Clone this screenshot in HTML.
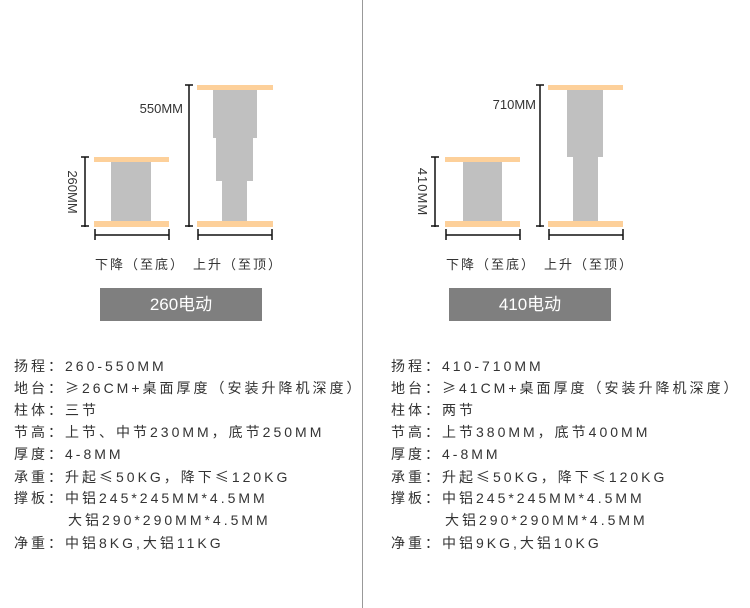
<!DOCTYPE html>
<html><head><meta charset="utf-8"><style>
body{margin:0;width:750px;height:608px;background:#fff;position:relative;overflow:hidden;font-family:"Liberation Sans","Noto Sans CJK SC",sans-serif;}
.t{position:absolute;font-size:14px;letter-spacing:3px;color:#333;white-space:nowrap;line-height:16px;}
.c{font-family:"Noto Sans CJK SC",sans-serif;}
.btn{position:absolute;background:#7f7f7f;color:#fff;font-size:17px;text-align:center;line-height:33px;height:33px;width:162px;top:288px;}
.lab{position:absolute;font-size:13px;color:#333;letter-spacing:2px;white-space:nowrap;}
</style></head><body>
<svg width="750" height="608" style="position:absolute;left:0;top:0">
<line x1="362.5" y1="0" x2="362.5" y2="608" stroke="#999" stroke-width="1"/>
<g stroke="#111" stroke-width="1.5" fill="none">
<line x1="85" y1="157" x2="85" y2="227"/><line x1="81" y1="157" x2="89" y2="157"/><line x1="81" y1="226" x2="89" y2="226"/>
<line x1="95" y1="235" x2="169" y2="235"/><line x1="95" y1="229" x2="95" y2="240"/><line x1="169" y1="229" x2="169" y2="240"/>
<line x1="189" y1="85" x2="189" y2="227"/><line x1="185" y1="85" x2="193" y2="85"/><line x1="185" y1="226" x2="193" y2="226"/>
<line x1="198" y1="235" x2="272" y2="235"/><line x1="198" y1="229" x2="198" y2="240"/><line x1="272" y1="229" x2="272" y2="240"/>
<line x1="435" y1="157" x2="435" y2="227"/><line x1="431" y1="157" x2="439" y2="157"/><line x1="431" y1="226" x2="439" y2="226"/>
<line x1="446" y1="235" x2="520" y2="235"/><line x1="446" y1="229" x2="446" y2="240"/><line x1="520" y1="229" x2="520" y2="240"/>
<line x1="540" y1="85" x2="540" y2="227"/><line x1="536" y1="85" x2="544" y2="85"/><line x1="536" y1="226" x2="544" y2="226"/>
<line x1="549" y1="235" x2="623" y2="235"/><line x1="549" y1="229" x2="549" y2="240"/><line x1="623" y1="229" x2="623" y2="240"/>
</g>
<g fill="#c0c0c0">
<rect x="111" y="162" width="40" height="60"/>
<rect x="213" y="90" width="44" height="48"/><rect x="216" y="138" width="37" height="43"/><rect x="222" y="181" width="25" height="41"/>
<rect x="463" y="162" width="39" height="60"/>
<rect x="567" y="90" width="36" height="67"/><rect x="573" y="157" width="25" height="65"/>
</g>
<g fill="#fdd09a">
<rect x="94" y="157" width="75" height="5"/><rect x="94" y="221" width="75" height="6"/>
<rect x="197" y="85" width="76" height="5"/><rect x="197" y="221" width="76" height="6"/>
<rect x="445" y="157" width="75" height="5"/><rect x="445" y="221" width="75" height="6"/>
<rect x="548" y="85" width="75" height="5"/><rect x="548" y="221" width="75" height="6"/>
</g>
<g font-family="Liberation Sans, sans-serif" font-size="13" fill="#333">
<text x="183" y="113" text-anchor="end">550MM</text>
<text x="536" y="109" text-anchor="end">710MM</text>
<text transform="translate(68,192) rotate(90)" text-anchor="middle">260MM</text>
<text transform="translate(418,192) rotate(90)" text-anchor="middle" letter-spacing="1">410MM</text>
</g>
</svg>
<div class="lab" style="left:95px;top:254px">下降（至底）</div>
<div class="lab" style="left:193px;top:254px">上升（至顶）</div>
<div class="lab" style="left:446px;top:254px">下降（至底）</div>
<div class="lab" style="left:544px;top:254px">上升（至顶）</div>
<div class="btn" style="left:100px">260电动</div>
<div class="btn" style="left:449px">410电动</div>

<div class="t" style="left:14px;top:358px">扬程：260-550MM</div>
<div class="t" style="left:14px;top:380px">地台：<span class="c">≥</span>26CM+桌面厚度（安装升降机深度）</div>
<div class="t" style="left:14px;top:402px">柱体：三节</div>
<div class="t" style="left:14px;top:424px">节高：上节、中节230MM，底节250MM</div>
<div class="t" style="left:14px;top:446px">厚度：4-8MM</div>
<div class="t" style="left:14px;top:469px">承重：升起<span class="c">≤</span>50KG，降下<span class="c">≤</span>120KG</div>
<div class="t" style="left:14px;top:490px">撑板：中铝245*245MM*4.5MM</div>
<div class="t" style="left:68px;top:512px">大铝290*290MM*4.5MM</div>
<div class="t" style="left:14px;top:535px">净重：中铝8KG,大铝11KG</div>

<div class="t" style="left:391px;top:358px">扬程：410-710MM</div>
<div class="t" style="left:391px;top:380px">地台：<span class="c">≥</span>41CM+桌面厚度（安装升降机深度）</div>
<div class="t" style="left:391px;top:402px">柱体：两节</div>
<div class="t" style="left:391px;top:424px">节高：上节380MM，底节400MM</div>
<div class="t" style="left:391px;top:446px">厚度：4-8MM</div>
<div class="t" style="left:391px;top:469px">承重：升起<span class="c">≤</span>50KG，降下<span class="c">≤</span>120KG</div>
<div class="t" style="left:391px;top:490px">撑板：中铝245*245MM*4.5MM</div>
<div class="t" style="left:445px;top:512px">大铝290*290MM*4.5MM</div>
<div class="t" style="left:391px;top:535px">净重：中铝9KG,大铝10KG</div>
</body></html>
